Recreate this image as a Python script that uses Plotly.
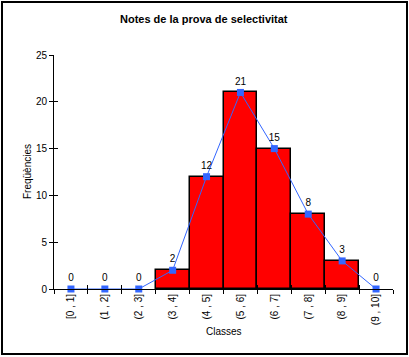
import plotly.graph_objects as go

classes = ["[0 , 1]", "(1 , 2]", "(2 , 3]", "(3 , 4]", "(4 , 5]",
           "(5 , 6]", "(6 , 7]", "(7 , 8]", "(8 , 9]", "(9 , 10]"]
freqs = [0, 0, 0, 2, 12, 21, 15, 8, 3, 0]
y_ticks = [0, 5, 10, 15, 20, 25]

FONT = "Arial, Liberation Sans, sans-serif"
bar_vals = [v if v > 0 else None for v in freqs]

fig = go.Figure()
fig.add_trace(go.Bar(
    x=classes, y=bar_vals,
    marker=dict(color="#FF0000", line=dict(color="black", width=1.5)),
    hoverinfo="skip", showlegend=False,
))
fig.add_trace(go.Scatter(
    x=classes, y=freqs, mode="lines+markers+text",
    line=dict(color="#3366FF", width=1),
    marker=dict(symbol="square", size=7, color="#3366FF"),
    text=[str(v) for v in freqs], textposition="top center",
    textfont=dict(family=FONT, size=10, color="black"),
    showlegend=False, cliponaxis=False,
))
# invisible trace for inside ticks (cross-tick effect)
fig.add_trace(go.Scatter(x=classes, y=freqs, xaxis="x2", yaxis="y2",
                         mode="markers", marker=dict(opacity=0),
                         showlegend=False, hoverinfo="skip"))

fig.update_layout(
    width=409, height=357,
    margin=dict(l=54, r=16, t=55, b=68),
    paper_bgcolor="white", plot_bgcolor="white",
    bargap=0,
    font=dict(family=FONT, size=10, color="black"),
    xaxis=dict(type="category", range=[-0.5, 9.5], tickson="boundaries",
               ticks="outside", ticklen=4, tickcolor="black",
               showline=True, linecolor="black", linewidth=1,
               tickangle=-90, showgrid=False, zeroline=False,
               tickfont=dict(family=FONT, size=10)),
    yaxis=dict(range=[0, 25], tickvals=y_ticks, ticks="outside", ticklen=4,
               tickcolor="black", showline=True, linecolor="black",
               linewidth=1, showgrid=False, zeroline=False,
               tickfont=dict(family=FONT, size=10)),
    xaxis2=dict(type="category", overlaying="x", range=[-0.5, 9.5],
                tickson="boundaries", ticks="inside", ticklen=4,
                tickcolor="black", showticklabels=False, showgrid=False,
                zeroline=False, side="bottom", anchor="y2"),
    yaxis2=dict(overlaying="y", range=[0, 25], tickvals=y_ticks,
                ticks="inside", ticklen=4, tickcolor="black",
                showticklabels=False, showgrid=False, zeroline=False,
                side="left", anchor="x2"),
    shapes=[dict(type="rect", xref="paper", yref="paper",
                 x0=-52 / 339, x1=1 + 14 / 339, y0=-65 / 234, y1=1 + 53 / 234,
                 line=dict(color="black", width=2))],
    annotations=[
        dict(text="<b>Notes de la prova de selectivitat</b>", xref="paper",
             yref="paper", x=(204 - 54) / 339, y=1 + (289 - 19 - 234) / 234,
             showarrow=False, font=dict(family=FONT, size=11),
             xanchor="center", yanchor="middle"),
        dict(text="Freqüències", xref="paper", yref="paper",
             x=(27 - 54) / 339, y=(289 - 172) / 234, textangle=-90,
             showarrow=False, font=dict(family=FONT, size=10),
             xanchor="center", yanchor="middle"),
        dict(text="Classes", xref="paper", yref="paper",
             x=(224 - 54) / 339, y=-(331 - 289) / 234, showarrow=False,
             font=dict(family=FONT, size=10),
             xanchor="center", yanchor="middle"),
    ],
)

fig.write_html("out.html", config={"displayModeBar": False},
               post_script="document.body.style.margin='0';")
